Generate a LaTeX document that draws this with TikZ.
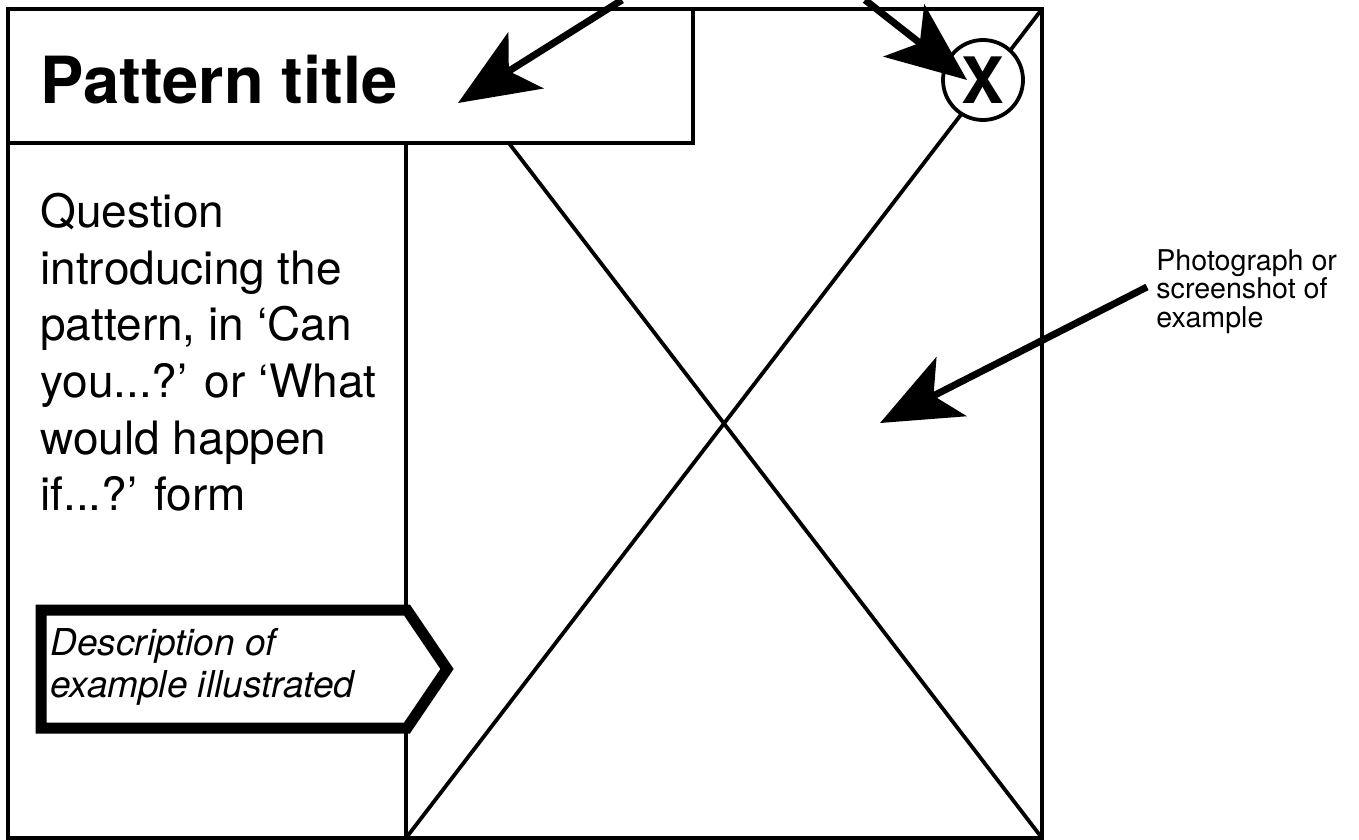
\documentclass[tikz,border=0pt]{standalone}
\usepackage{fontspec}
\setmainfont{TeX Gyre Heros}
\usetikzlibrary{arrows.meta}

\begin{document}
\begin{tikzpicture}[x=0.5pt, y=-0.5pt, line join=miter,
    frame/.style={line width=1.9pt},
    pointer/.style={line width=3.5pt, -{Stealth[length=40pt, width=33pt, inset=10pt]}},
    label/.style={inner sep=0pt, align=left, anchor=north west}]
    \useasboundingbox (0,0) rectangle (1359,840);

    % Outer frame and the cross of the photo area
    \draw[frame] (8,9) rectangle (1042,838);
    \draw[frame] (406,9) -- (1042,838);
    \draw[frame] (406,838) -- (1042,9);
    \draw[frame] (406,143) -- (406,838);

    % Title bar
    \draw[frame, fill=white] (8,9) rectangle (693,143);
    \node[inner sep=0pt, anchor=base west, font=\fontsize{32.5}{36}\selectfont\bfseries] (title) at (40,104) {Pattern title};

    % Close button
    \node[frame, draw, fill=white, circle, minimum size=40pt, inner sep=0pt,
          font=\fontsize{32}{36}\selectfont\bfseries] (closex) at (983,80) {X};

    % Question
    \node[label, font=\fontsize{23}{28.3}\selectfont] (question) at (40,193)
        {Question\\introducing the\\pattern, in ‘Can\\you...?’ or ‘What\\would happen\\if...?’ form};

    % Description tag
    \draw[line width=5.5pt, fill=white] (41,610) -- (407,610) -- (447,669) -- (407,728) -- (41,728) -- cycle;
    \node[label, font=\fontsize{18.5}{21}\selectfont\itshape] (descr) at (50,628) {Description of\\example illustrated};

    % Caption on the right
    \node[label, font=\fontsize{14.3}{14.2}\selectfont] (photo) at (1156,249) {Photograph or\\screenshot of\\example};

    % Pointers
    \coordinate (t1) at (622,0);
    \coordinate (h1) at (458,103);
    \coordinate (t2) at (865,0);
    \coordinate (h2) at (967,80);
    \coordinate (t3) at (1147,287);
    \coordinate (h3) at (880,423);
    \draw[pointer] (t1) -- (h1);
    \draw[pointer] (t2) -- (h2);
    \draw[pointer] (t3) -- (h3);
\end{tikzpicture}
\end{document}
